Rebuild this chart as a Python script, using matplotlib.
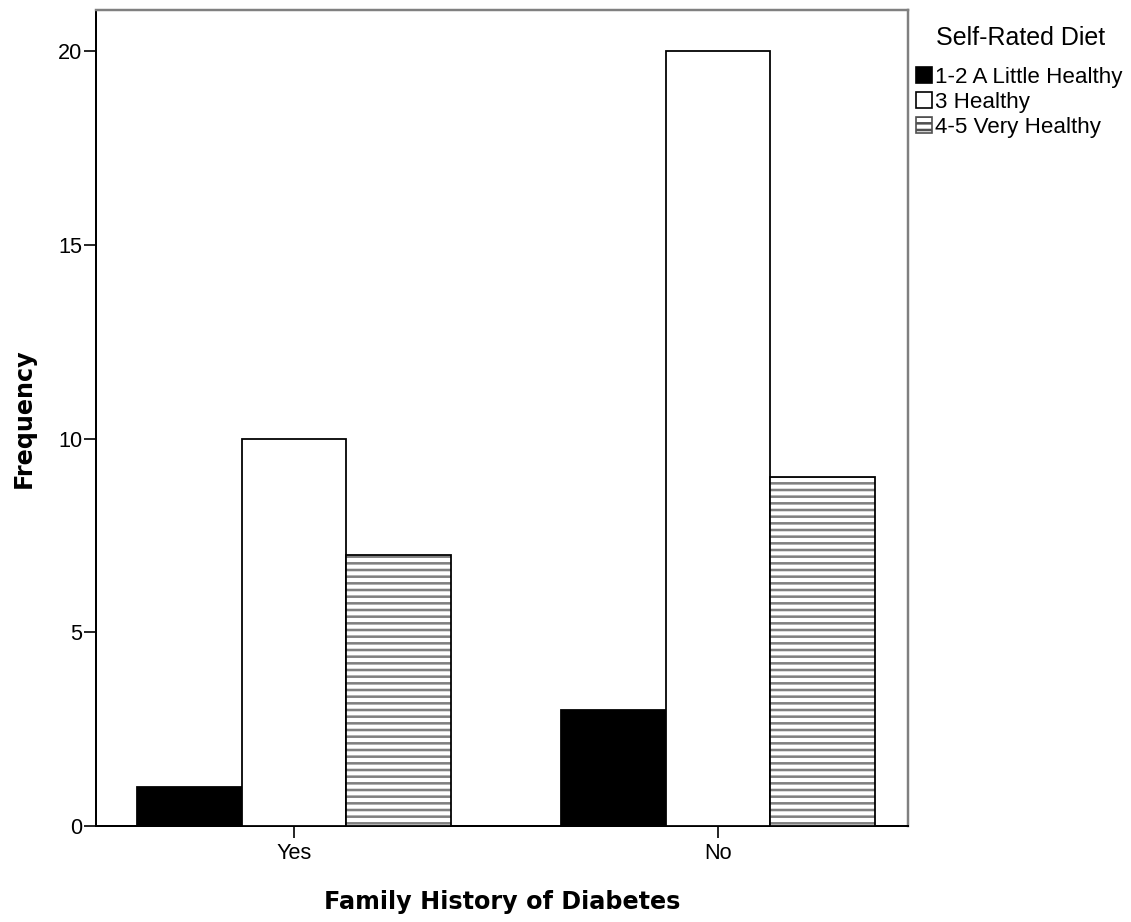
import matplotlib
matplotlib.use("Agg")
import matplotlib.pyplot as plt
import matplotlib.patches as mpatches
import numpy as np

# data
groups = ["Yes", "No"]
diet_labels = ["1-2 A Little Healthy", "3 Healthy", "4-5 Very Healthy"]
little_healthy = [1, 3]
healthy = [10, 20]
very_healthy = [7, 9]

DPI = 80
plt.rcParams["font.family"] = ["Liberation Sans", "DejaVu Sans"]
plt.rcParams["hatch.linewidth"] = 2.3
plt.rcParams["hatch.color"] = "#808080"

fig = plt.figure(figsize=(1131 / DPI, 922 / DPI), dpi=DPI)
ax = fig.add_axes([96 / 1131, 1 - 826 / 922, (908 - 96) / 1131, (826 - 10) / 922])

x = np.arange(len(groups))
w = 0.2465
lw = 1.6

ax.bar(x - w, little_healthy, w, color="black", edgecolor="black", linewidth=lw, zorder=3)
ax.bar(x, healthy, w, color="white", edgecolor="black", linewidth=lw, zorder=3)
# hatched bars: gray lines first, black outline drawn over them
ax.bar(x + w, very_healthy, w, color="white", edgecolor="#808080", hatch="--", linewidth=0, zorder=3)
ax.bar(x + w, very_healthy, w, fill=False, edgecolor="black", linewidth=lw, zorder=4)

ax.set_xlim(-0.467, 1.448)
ax.set_ylim(0, 21.06)
ax.set_yticks([0, 5, 10, 15, 20])
ax.set_xticks(x)
ax.set_xticklabels(groups)
ax.tick_params(axis="both", direction="out", length=10.5, width=1.5, labelsize=19.5, color="black")
ax.tick_params(axis="y", pad=2)
ax.tick_params(axis="x", pad=5)

for side in ["left", "bottom"]:
    ax.spines[side].set_color("black")
    ax.spines[side].set_linewidth(1.8)
for side in ["top", "right"]:
    ax.spines[side].set_color("#808080")
    ax.spines[side].set_linewidth(2.2)

ax.set_xlabel("Family History of Diabetes", family="DejaVu Sans", fontweight="bold", fontsize=21.5, labelpad=23)
ax.set_ylabel("Frequency", family="DejaVu Sans", fontweight="bold", fontsize=21.5, labelpad=20)

handles = [
    mpatches.Patch(facecolor="black", edgecolor="black", linewidth=1.5),
    mpatches.Patch(facecolor="white", edgecolor="black", linewidth=1.5),
    mpatches.Patch(facecolor="white", edgecolor="#505050", hatch="--", linewidth=1.5),
]
fig.text(936 / 1131, 1 - 38 / 922, "Self-Rated Diet", fontsize=22.5, ha="left", va="center")
fig.legend(handles, diet_labels, loc="upper left",
           bbox_to_anchor=(916 / 1131, 1 - 67 / 922), frameon=False,
           fontsize=20.2, handlelength=0.72, handleheight=0.72,
           handletextpad=0.12, labelspacing=0.18, borderpad=0, borderaxespad=0)

fig.savefig("out.png", dpi=DPI)
